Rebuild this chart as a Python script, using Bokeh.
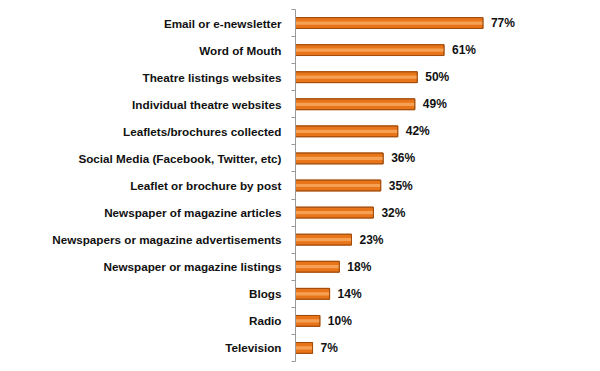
from bokeh.plotting import figure
from bokeh.models import Range1d, FixedTicker, ColumnDataSource
from bokeh.core.properties import value
from bokeh.embed import file_html
from bokeh.resources import INLINE

categories = [
    "Email or e-newsletter",
    "Word of Mouth",
    "Theatre listings websites",
    "Individual theatre websites",
    "Leaflets/brochures collected",
    "Social Media (Facebook, Twitter, etc)",
    "Leaflet or brochure by post",
    "Newspaper of magazine articles",
    "Newspapers or magazine advertisements",
    "Newspaper or magazine listings",
    "Blogs",
    "Radio",
    "Television",
]
percent = [77, 61, 50, 49, 42, 36, 35, 32, 23, 18, 14, 10, 7]
labels = [f"{v}%" for v in percent]

n = len(categories)
ypos = [n - i - 0.5 for i in range(n)]

src = ColumnDataSource(dict(y=ypos, v=percent, lab=labels, cat=categories))

p = figure(width=592, height=363, output_backend="svg", toolbar_location=None,
           x_range=Range1d(0, 122), y_range=Range1d(0, n),
           min_border_left=295, min_border_right=0, min_border_top=9, min_border_bottom=2)
p.outline_line_color = None
p.xgrid.visible = False
p.ygrid.visible = False
p.xaxis.visible = False
p.background_fill_color = "white"
p.border_fill_color = "white"

# bars with a subtle 3D look
p.hbar(y="y", right="v", left=0, height=0.40, source=src,
       fill_color="#E8751A", line_color="#B85A12", line_width=1)
p.hbar(y="y", right="v", left=0, height=0.12, source=src,
       fill_color="#F8A85E", line_color=None, fill_alpha=0.85)
p.hbar(y="y", right="v", left=0, height=0.40, source=src,
       fill_color=None, line_color="#A04C0C", line_width=1)

p.text(x="v", y="y", text="lab", source=src, x_offset=8,
       text_font=value("Liberation Sans"), text_font_style="bold",
       text_font_size="12px", text_baseline="middle", text_align="left",
       text_color="#111111")

yax = p.yaxis[0]
yax.ticker = FixedTicker(ticks=ypos, minor_ticks=list(range(n + 1)))
yax.major_label_overrides = {y: c for y, c in zip(ypos, categories)}
yax.major_tick_line_color = None
yax.major_tick_in = 0
yax.major_tick_out = 0
yax.minor_tick_line_color = "#999999"
yax.minor_tick_out = 4
yax.minor_tick_in = 0
yax.axis_line_color = "#999999"
yax.major_label_standoff = 10
yax.major_label_text_font = "Liberation Sans"
yax.major_label_text_font_style = "bold"
yax.major_label_text_font_size = "11.7px"
yax.major_label_text_color = "#111111"

open("out.html", "w").write(file_html(p, INLINE))
